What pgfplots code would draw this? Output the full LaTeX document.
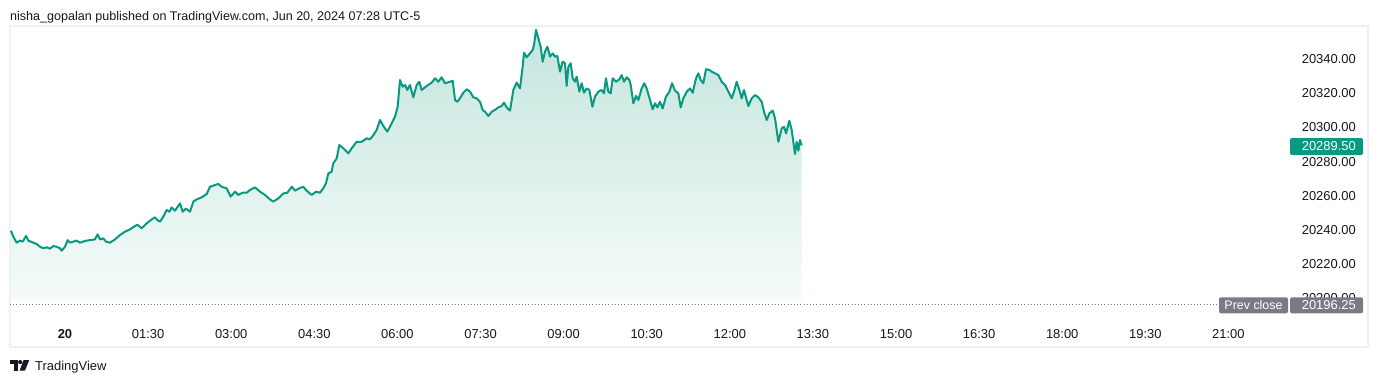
\documentclass[border=0pt]{standalone}
\usepackage{pgfplots}
\pgfplotsset{compat=1.18}
\usepackage{pgfplotstable}
\usepackage{fontspec}
\setmainfont{Liberation Sans}
\definecolor{tvgreen}{RGB}{8,153,129}
\definecolor{tvtext}{RGB}{19,23,34}
\definecolor{tvgray}{RGB}{120,123,134}
\definecolor{tvframe}{RGB}{238,240,246}
\definecolor{filltop}{RGB}{196,229,221}
\definecolor{fillbot}{RGB}{246,251,250}

\pgfplotstableread{
h v
-0.975 20239.6
-0.933 20236.1
-0.872 20232.6
-0.812 20233.8
-0.764 20233.2
-0.704 20236.5
-0.662 20233.8
-0.620 20233.2
-0.572 20232.6
-0.512 20231.8
-0.451 20230.2
-0.391 20229.3
-0.331 20229.9
-0.271 20229.1
-0.211 20230.6
-0.151 20230.2
-0.090 20229.3
-0.060 20227.9
0.000 20230.2
0.048 20234.1
0.090 20232.6
0.150 20233.2
0.210 20233.8
0.271 20232.6
0.361 20233.6
0.451 20234.1
0.541 20234.5
0.589 20237.5
0.632 20234.5
0.692 20235.1
0.740 20233.2
0.812 20232.6
0.903 20234.5
0.993 20237.1
1.083 20239.0
1.173 20240.4
1.264 20242.3
1.306 20243.1
1.384 20241.0
1.474 20243.9
1.565 20246.2
1.625 20247.4
1.667 20245.8
1.715 20244.9
1.775 20247.8
1.835 20251.7
1.884 20250.7
1.925 20253.2
1.986 20251.3
2.076 20255.6
2.124 20250.7
2.184 20252.5
2.256 20250.7
2.317 20256.6
2.377 20257.9
2.467 20259.1
2.557 20261.0
2.617 20265.3
2.708 20266.3
2.768 20266.9
2.828 20265.3
2.918 20264.4
2.990 20259.5
3.069 20262.4
3.129 20260.5
3.207 20261.8
3.279 20261.8
3.339 20263.4
3.430 20264.9
3.520 20262.4
3.610 20260.5
3.700 20257.9
3.760 20256.6
3.851 20258.5
3.941 20261.4
4.013 20261.8
4.092 20265.3
4.152 20263.0
4.230 20264.4
4.302 20265.3
4.362 20263.0
4.452 20260.5
4.531 20262.4
4.603 20261.8
4.663 20264.4
4.711 20267.3
4.753 20273.1
4.813 20274.1
4.843 20279.0
4.904 20281.9
4.952 20289.7
5.024 20287.8
5.114 20284.8
5.175 20287.8
5.265 20291.6
5.355 20291.6
5.445 20293.6
5.505 20293.0
5.566 20295.5
5.626 20298.5
5.686 20304.3
5.746 20300.8
5.818 20297.5
5.897 20302.4
5.957 20306.3
6.005 20312.1
6.047 20327.7
6.095 20323.8
6.137 20324.8
6.179 20321.9
6.227 20324.8
6.287 20317.6
6.348 20324.8
6.396 20326.7
6.438 20321.9
6.528 20324.2
6.619 20326.2
6.679 20328.7
6.739 20326.7
6.799 20329.3
6.859 20325.8
6.950 20326.7
6.998 20327.3
7.040 20316.0
7.082 20315.0
7.130 20317.0
7.190 20320.3
7.250 20322.3
7.311 20320.9
7.371 20317.6
7.431 20317.0
7.491 20315.0
7.539 20310.2
7.581 20309.2
7.642 20306.7
7.702 20309.2
7.762 20310.2
7.822 20311.7
7.882 20312.5
7.924 20314.5
7.972 20311.7
8.033 20309.8
8.093 20321.9
8.153 20326.2
8.213 20322.8
8.261 20335.5
8.285 20343.7
8.333 20341.0
8.394 20343.3
8.442 20345.3
8.466 20348.2
8.502 20357.0
8.544 20352.1
8.586 20347.2
8.622 20338.4
8.664 20344.3
8.706 20347.2
8.755 20341.4
8.803 20343.3
8.845 20341.4
8.887 20341.7
8.935 20332.6
8.983 20338.4
9.025 20337.5
9.055 20324.2
9.086 20335.5
9.128 20337.5
9.164 20328.7
9.206 20326.7
9.236 20329.7
9.284 20320.9
9.326 20325.8
9.368 20320.3
9.416 20322.8
9.465 20321.9
9.519 20312.1
9.567 20318.0
9.627 20320.9
9.687 20321.9
9.729 20319.9
9.765 20328.7
9.807 20320.9
9.850 20319.9
9.886 20328.7
9.946 20326.7
10.006 20328.1
10.048 20330.6
10.090 20326.7
10.138 20329.3
10.187 20327.7
10.211 20324.8
10.259 20314.1
10.307 20318.4
10.349 20316.0
10.409 20322.8
10.457 20325.8
10.499 20322.8
10.560 20316.0
10.608 20310.6
10.650 20314.1
10.692 20311.7
10.740 20315.0
10.788 20311.1
10.848 20318.0
10.909 20320.9
10.957 20325.8
11.011 20321.5
11.071 20319.9
11.113 20311.7
11.161 20317.0
11.222 20320.9
11.282 20322.8
11.330 20320.3
11.390 20328.7
11.432 20331.6
11.474 20327.7
11.522 20325.8
11.570 20334.0
11.631 20333.6
11.673 20332.6
11.733 20331.6
11.793 20330.6
11.853 20326.7
11.913 20324.8
11.974 20320.9
12.034 20317.0
12.076 20320.9
12.124 20326.7
12.172 20321.9
12.214 20317.0
12.256 20321.9
12.304 20316.0
12.335 20312.5
12.395 20317.0
12.455 20318.9
12.515 20317.6
12.575 20315.0
12.617 20309.2
12.666 20304.3
12.714 20308.2
12.774 20309.8
12.816 20305.3
12.876 20291.6
12.936 20299.4
12.979 20300.4
13.015 20296.5
13.075 20303.9
13.117 20298.5
13.177 20284.4
13.207 20291.6
13.237 20286.4
13.267 20292.6
13.297 20289.5
}\pricedata

\begin{document}
\begin{tikzpicture}[x=1bp,y=1bp]
\useasboundingbox[fill=white] (0,0) rectangle (1378,382);
% frame
\draw[tvframe, line width=2bp] (10,382-26.5) rectangle (1368,382-346.7);
% header
\node[anchor=base west, inner sep=0pt, text=tvtext, font=\fontsize{12.6}{15}\selectfont]
  at (10,382-20.7) {nisha\_gopalan published on TradingView.com, Jun 20, 2024 07:28 UTC-5};

\begin{axis}[
  at={(10bp,64bp)}, anchor=south west,
  width=1278bp, height=292bp, scale only axis,
  xmin=-0.99278, xmax=22.0758,
  ymin=20188.538, ymax=20359.298,
  axis line style={draw=none},
  major tick length=0pt,
  scaled y ticks=false, scaled x ticks=false,
  xtick={0,1.5,3,4.5,6,7.5,9,10.5,12,13.5,15,16.5,18,19.5,21},
  xticklabels={\textbf{20},01:30,03:00,04:30,06:00,07:30,09:00,10:30,12:00,13:30,15:00,16:30,18:00,19:30,21:00},
  xticklabel style={anchor=base, inner sep=0pt, yshift=-20.3bp, text=tvtext, font=\fontsize{13}{15}\selectfont},
  ytick={20200,20220,20240,20260,20280,20300,20320,20340},
  yticklabels={20200.00,20220.00,20240.00,20260.00,20280.00,20300.00,20320.00,20340.00},
  yticklabel pos=right,
  yticklabel style={anchor=east, inner sep=0pt, xshift=68bp, text=tvtext, font=\fontsize{13}{15}\selectfont},
]
\addplot[draw=none, top color=filltop, bottom color=fillbot]
  table[x=h, y=v] {\pricedata} -- (axis cs:13.297,20199) -- (axis cs:-0.975,20199) -- cycle;
\addplot[color=tvgreen, line width=2bp, line join=round] table[x=h, y=v] {\pricedata};
\draw[tvgray, line width=0.8bp, dash pattern=on 0.8bp off 2.4bp] (axis cs:-0.99278,20196.25) -- (axis cs:20.83,20196.25);
\end{axis}

% last price label
\fill[tvgreen, rounded corners=2bp] (1290,382-155) rectangle (1363,382-138);
\node[anchor=east, inner sep=0pt, text=white, font=\fontsize{13}{15}\selectfont] at (1356,382-146.5) {20289.50};
% prev close label
\fill[tvgray, rounded corners=2bp] (1219,382-313.3) rectangle (1288,382-297.3);
\fill[tvgray, rounded corners=2bp] (1290,382-313.3) rectangle (1363,382-297.3);
\node[anchor=center, inner sep=0pt, text=white, font=\fontsize{12.5}{15}\selectfont] at (1253.5,382-305.3) {Prev close};
\node[anchor=east, inner sep=0pt, text=white, font=\fontsize{13}{15}\selectfont] at (1356,382-305.3) {20196.25};

% TradingView logo
\fill[tvtext] (10,382-360) rectangle (17.6,382-364.2);
\fill[tvtext] (13.6,382-360) rectangle (17.6,382-370.6);
\fill[tvtext] (20.2,382-362.1) circle (2.1);
\fill[tvtext] (23.6,382-360) -- (29.3,382-360) -- (24.9,382-370.6) -- (19.6,382-370.6) -- cycle;
\node[anchor=base west, inner sep=0pt, text=tvtext, font=\fontsize{13}{15}\selectfont] at (35,382-370.7) {TradingView};
\end{tikzpicture}
\end{document}
